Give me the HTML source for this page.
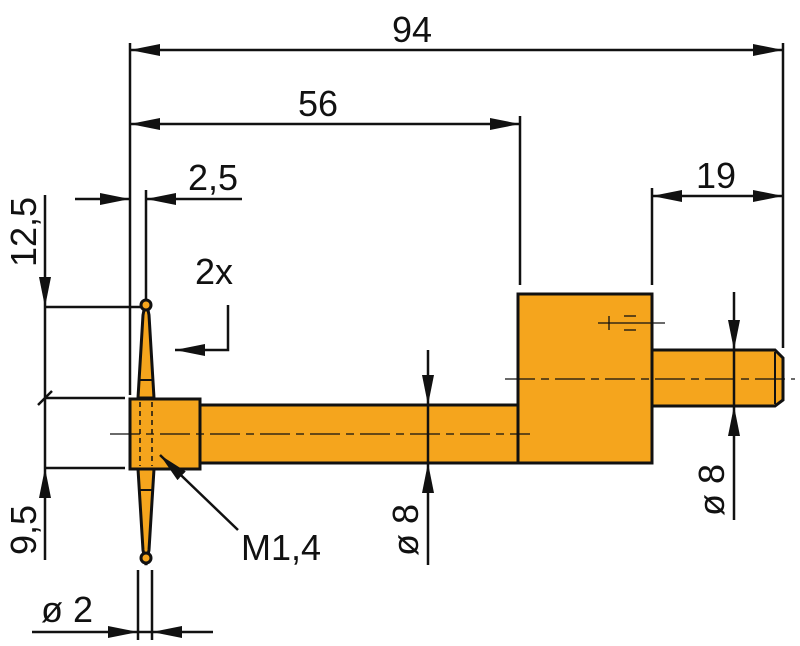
<!DOCTYPE html>
<html><head><meta charset="utf-8"><style>
html,body{margin:0;padding:0;background:#fff;width:800px;height:646px;overflow:hidden}
text{font-family:"Liberation Sans",sans-serif;fill:#111}
</style></head><body>
<svg width="800" height="646" viewBox="0 0 800 646" xmlns="http://www.w3.org/2000/svg">
<defs>
<marker id="a" viewBox="0 0 30 12" refX="30" refY="6" markerWidth="30" markerHeight="12" markerUnits="userSpaceOnUse" orient="auto-start-reverse" preserveAspectRatio="none"><path d="M0,0 L30,6 L0,12 z" fill="#111"/></marker>
</defs>
<g stroke="#111" stroke-width="2.5" fill="none">
<line x1="130" y1="43" x2="130" y2="395"/>
<line x1="146" y1="190" x2="146" y2="300"/>
<line x1="520" y1="116" x2="520" y2="285"/>
<line x1="652" y1="188" x2="652" y2="285"/>
<line x1="783" y1="43" x2="783" y2="348"/>
<line x1="45" y1="307" x2="150" y2="307"/>
<line x1="45" y1="398" x2="125" y2="398"/>
<line x1="45" y1="468" x2="125" y2="468"/>
<line x1="138" y1="570" x2="138" y2="640"/>
<line x1="152" y1="570" x2="152" y2="640"/>
</g>
<g fill="#f5a51d" stroke="#111" stroke-width="3">
<rect x="200" y="405" width="320" height="58"/>
<rect x="518" y="294" width="134" height="169"/>
<path d="M652,350 L775,350 L783,358 L783,400 L775,406 L652,406 z"/>
<path d="M143,315 L146,300 L149,315 L154,398 L138,398 z"/>
<path d="M138,469 L154,469 L149,550 L146,565 L143,550 z"/>
<circle cx="146" cy="305" r="5"/>
<circle cx="146" cy="558" r="5"/>
<rect x="130" y="399" width="70" height="70"/>
</g>
<g stroke="#111" stroke-width="2" fill="none">
<line x1="139" y1="380" x2="153" y2="380"/>
<line x1="139" y1="490" x2="153" y2="490"/>
<line x1="775" y1="352" x2="775" y2="404"/>
<line x1="110" y1="434" x2="530" y2="434" stroke-width="1.3" stroke-dasharray="30,6,8,6"/>
<line x1="505" y1="379" x2="795" y2="379" stroke-width="1.3" stroke-dasharray="30,6,8,6"/>
<line x1="140" y1="402" x2="140" y2="466" stroke-width="1.5" stroke-dasharray="5,4"/>
<line x1="152" y1="402" x2="152" y2="466" stroke-width="1.5" stroke-dasharray="5,4"/>
<line x1="598" y1="323" x2="665" y2="323" stroke-width="1.3"/>
<line x1="609" y1="316" x2="609" y2="330" stroke-width="1.3"/>
<line x1="624" y1="316" x2="636" y2="316" stroke-width="1.3"/>
<line x1="624" y1="330" x2="636" y2="330" stroke-width="1.3"/>
</g>
<g stroke="#111" stroke-width="2.5" fill="none">
<line x1="130" y1="50" x2="783" y2="50" marker-start="url(#a)" marker-end="url(#a)"/>
<line x1="130" y1="124" x2="520" y2="124" marker-start="url(#a)" marker-end="url(#a)"/>
<line x1="652" y1="196" x2="783" y2="196" marker-start="url(#a)" marker-end="url(#a)"/>
<line x1="75" y1="199" x2="130" y2="199" marker-end="url(#a)"/>
<line x1="242" y1="199" x2="146" y2="199" marker-end="url(#a)"/>
<line x1="45" y1="195" x2="45" y2="307" marker-end="url(#a)"/>
<line x1="45" y1="560" x2="45" y2="468" marker-end="url(#a)"/>
<line x1="45" y1="307" x2="45" y2="468"/>
<line x1="38" y1="405" x2="52" y2="391"/>
<line x1="32" y1="632" x2="138" y2="632" marker-end="url(#a)"/>
<line x1="213" y1="632" x2="152" y2="632" marker-end="url(#a)"/>
<line x1="138" y1="632" x2="152" y2="632"/>
<line x1="428" y1="350" x2="428" y2="405" marker-end="url(#a)"/>
<line x1="428" y1="565" x2="428" y2="463" marker-end="url(#a)"/>
<line x1="428" y1="405" x2="428" y2="463"/>
<line x1="734" y1="292" x2="734" y2="350" marker-end="url(#a)"/>
<line x1="734" y1="520" x2="734" y2="406" marker-end="url(#a)"/>
<line x1="734" y1="350" x2="734" y2="406"/>
<polyline points="228,305 228,350 175,350" marker-end="url(#a)"/>
<line x1="238" y1="530" x2="160" y2="455" marker-end="url(#a)"/>
</g>
<g font-size="36">
<text x="412" y="42" text-anchor="middle">94</text>
<text x="318" y="116" text-anchor="middle">56</text>
<text x="716" y="188" text-anchor="middle">19</text>
<text x="213" y="190" text-anchor="middle">2,5</text>
<text x="214" y="284" text-anchor="middle">2x</text>
<text x="241" y="560">M1,4</text>
<text x="67" y="622" text-anchor="middle">ø 2</text>
<text transform="translate(36,232) rotate(-90)" text-anchor="middle">12,5</text>
<text transform="translate(36,530) rotate(-90)" text-anchor="middle">9,5</text>
<text transform="translate(418,530) rotate(-90)" text-anchor="middle">ø 8</text>
<text transform="translate(724,490) rotate(-90)" text-anchor="middle">ø 8</text>
</g>
</svg>
</body></html>
